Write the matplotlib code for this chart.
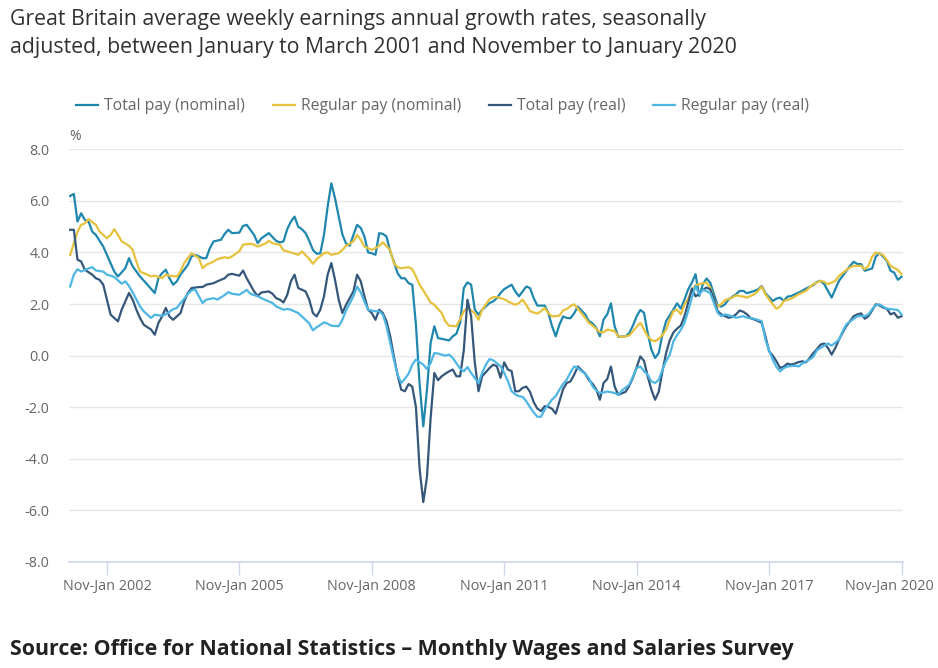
import matplotlib
matplotlib.use('Agg')
import matplotlib.pyplot as plt
from matplotlib import transforms

# month index: 0 = Jan-Mar 2001, 226 = Nov-Jan 2020 (rolling 3-month periods)
total_nom_m = [0, 1, 2, 3, 4, 5, 6, 7, 9, 11, 12, 13, 15, 16, 17, 19, 21, 22, 23, 24, 25, 26, 27, 28, 29, 30,
               32, 33, 34, 36, 37, 38, 39, 41, 42, 43, 44, 46, 47, 48, 50, 51, 52, 54, 55, 56, 57, 58, 59, 60,
               61, 62, 63, 64, 65, 66, 67, 68, 69, 70, 71, 72, 73, 74, 75, 76, 77, 78, 79, 80, 81, 82, 83, 84,
               85, 86, 87, 88, 89, 90, 91, 92, 93, 94, 95, 96, 97, 98, 99, 100, 101, 103, 104, 105, 106, 107,
               108, 109, 110, 111, 112, 114, 115, 116, 117, 118, 120, 121, 122, 123, 124, 125, 126, 127, 129,
               130, 131, 132, 133, 134, 135, 136, 137, 138, 140, 141, 142, 143, 144, 145, 146, 147, 148, 149,
               151, 152, 153, 154, 155, 156, 157, 158, 159, 160, 161, 162, 164, 165, 166, 167, 168, 169, 170,
               171, 172, 173, 174, 175, 176, 177, 178, 179, 181, 182, 183, 184, 186, 187, 188, 189, 191, 192,
               193, 194, 195, 196, 197, 199, 200, 202, 203, 204, 205, 206, 207, 208, 209, 211, 212, 213, 214,
               215, 216, 218, 219, 220, 221, 222, 223, 224, 225, 226]
total_nom = [6.19, 6.27, 5.2, 5.52, 5.26, 5.2, 4.81, 4.68, 4.23, 3.59, 3.26, 3.07, 3.39, 3.78, 3.46, 3.07, 2.75,
             2.59, 2.43, 3.0, 3.2, 3.33, 3.0, 2.75, 2.88, 3.14, 3.52, 3.85, 3.91, 3.78, 3.78, 4.17, 4.43, 4.49,
             4.72, 4.88, 4.75, 4.77, 5.03, 5.07, 4.68, 4.36, 4.55, 4.75, 4.6, 4.45, 4.39, 4.43, 4.9, 5.2, 5.39,
             5.0, 4.9, 4.75, 4.45, 4.1, 3.95, 3.97, 4.68, 5.78, 6.68, 6.1, 5.4, 4.7, 4.35, 4.26, 4.68, 5.07,
             4.95, 4.62, 4.0, 3.97, 3.91, 4.75, 4.72, 4.62, 4.04, 3.65, 3.2, 3.0, 3.0, 2.81, 2.75, 1.2, -1.1,
             -2.74, -1.32, 0.5, 1.14, 0.68, 0.65, 0.59, 0.75, 0.85, 1.26, 2.62, 2.84, 2.75, 1.78, 1.59, 1.78,
             2.04, 2.1, 2.23, 2.43, 2.58, 2.75, 2.49, 2.3, 2.49, 2.68, 2.62, 2.23, 1.94, 1.94, 1.65, 1.14, 0.75,
             1.2, 1.52, 1.46, 1.45, 1.64, 1.9, 1.6, 1.34, 1.25, 1.08, 0.75, 1.4, 1.6, 2.03, 1.14, 0.73, 0.75,
             0.88, 1.17, 1.53, 1.77, 1.66, 0.88, 0.23, -0.09, 0.1, 0.82, 1.34, 1.79, 2.03, 1.82, 2.18, 2.57,
             2.83, 3.16, 2.31, 2.77, 2.99, 2.83, 2.38, 1.95, 1.9, 1.99, 2.18, 2.38, 2.51, 2.51, 2.42, 2.51, 2.57,
             2.7, 2.42, 2.12, 2.21, 2.25, 2.12, 2.29, 2.31, 2.38, 2.51, 2.6, 2.73, 2.86, 2.9, 2.77, 2.51, 2.25,
             2.57, 2.9, 3.29, 3.48, 3.64, 3.55, 3.55, 3.29, 3.38, 3.84, 3.97, 3.84, 3.68, 3.29, 3.22, 2.94, 3.06]

reg_nom_m = [0, 2, 3, 4, 5, 7, 8, 9, 10, 11, 12, 13, 14, 16, 17, 18, 19, 21, 22, 23, 25, 26, 27, 29, 30, 31, 32,
             33, 35, 36, 37, 39, 40, 42, 43, 44, 46, 47, 49, 50, 51, 53, 54, 55, 57, 58, 59, 60, 62, 63, 64, 65,
             66, 67, 69, 70, 71, 73, 74, 75, 77, 78, 79, 80, 82, 83, 84, 85, 87, 88, 89, 90, 92, 93, 94, 95, 97,
             98, 99, 101, 102, 103, 105, 106, 107, 108, 110, 111, 112, 114, 115, 116, 118, 119, 121, 122, 123,
             124, 125, 127, 128, 129, 130, 131, 133, 134, 135, 136, 137, 138, 140, 141, 142, 144, 145, 146, 148,
             149, 150, 152, 153, 154, 155, 156, 157, 158, 159, 160, 161, 162, 163, 164, 165, 166, 167, 168, 169,
             170, 171, 172, 173, 174, 175, 176, 177, 178, 180, 181, 182, 183, 184, 186, 187, 188, 189, 191, 192,
             193, 194, 196, 197, 198, 200, 201, 202, 204, 205, 206, 208, 209, 211, 212, 213, 215, 216, 217, 218,
             219, 220, 221, 222, 223, 224, 225, 226]
reg_nom = [3.9, 4.81, 5.07, 5.13, 5.29, 5.07, 4.81, 4.68, 4.55, 4.68, 4.9, 4.68, 4.43, 4.26, 4.1, 3.65, 3.26,
           3.14, 3.07, 3.1, 3.0, 3.14, 3.1, 3.07, 3.26, 3.59, 3.78, 3.97, 3.78, 3.39, 3.52, 3.65, 3.74, 3.82,
           3.78, 3.85, 4.05, 4.3, 4.34, 4.3, 4.23, 4.34, 4.45, 4.36, 4.3, 4.08, 4.04, 4.0, 3.91, 4.04, 3.9, 3.75,
           3.56, 3.74, 3.97, 4.0, 3.91, 3.97, 4.1, 4.26, 4.43, 4.68, 4.49, 4.23, 4.1, 4.17, 4.26, 4.39, 4.1,
           3.59, 3.43, 3.39, 3.43, 3.35, 3.07, 2.75, 2.3, 2.06, 1.97, 1.65, 1.33, 1.16, 1.14, 1.42, 1.72, 1.85,
           1.65, 1.39, 1.78, 2.19, 2.27, 2.27, 2.19, 2.1, 1.97, 2.04, 2.17, 1.97, 1.72, 1.63, 1.72, 1.85, 1.65,
           1.52, 1.55, 1.75, 1.81, 1.92, 1.99, 1.82, 1.47, 1.27, 1.17, 0.91, 0.91, 1.01, 0.95, 0.75, 0.73, 0.78,
           0.95, 1.12, 1.27, 1.01, 0.75, 0.6, 0.56, 0.65, 0.8, 1.01, 1.4, 1.73, 1.79, 1.6, 1.99, 2.2, 2.55, 2.73,
           2.77, 2.81, 2.83, 2.64, 2.18, 1.9, 2.0, 2.15, 2.25, 2.34, 2.31, 2.29, 2.25, 2.38, 2.51, 2.68, 2.38,
           1.99, 1.82, 1.9, 2.12, 2.21, 2.29, 2.38, 2.51, 2.64, 2.77, 2.9, 2.86, 2.77, 2.9, 3.09, 3.32, 3.42,
           3.48, 3.48, 3.35, 3.48, 3.84, 4.0, 3.95, 3.9, 3.71, 3.48, 3.4, 3.32, 3.16]

total_real_m = [0, 1, 2, 3, 4, 6, 7, 8, 9, 10, 11, 12, 13, 14, 15, 16, 17, 18, 19, 20, 22, 23, 24, 25, 26, 27, 28,
                30, 31, 32, 33, 35, 36, 37, 39, 40, 42, 43, 44, 46, 47, 48, 50, 51, 52, 54, 55, 56, 57, 58, 59,
                60, 61, 62, 64, 65, 66, 67, 68, 69, 70, 71, 72, 73, 74, 75, 77, 78, 79, 80, 81, 82, 83, 84, 85,
                86, 87, 88, 89, 90, 91, 92, 93, 94, 95, 96, 97, 98, 99, 100, 101, 102, 103, 104, 105, 106, 107,
                108, 109, 110, 111, 112, 114, 115, 116, 117, 118, 119, 120, 121, 122, 123, 124, 125, 126, 127,
                128, 129, 130, 131, 132, 133, 134, 135, 136, 137, 138, 140, 141, 142, 143, 144, 145, 146, 147,
                148, 149, 151, 152, 153, 154, 155, 156, 157, 158, 159, 160, 161, 162, 163, 164, 165, 166, 167,
                168, 169, 170, 171, 172, 173, 174, 175, 176, 177, 178, 179, 180, 181, 182, 183, 184, 185, 186,
                187, 188, 189, 190, 191, 192, 193, 194, 195, 196, 197, 198, 199, 200, 201, 202, 203, 204, 205,
                206, 207, 208, 209, 210, 211, 212, 213, 214, 215, 216, 217, 218, 219, 220, 221, 222, 223, 224,
                225, 226]
total_real = [4.88, 4.88, 3.72, 3.65, 3.33, 3.14, 3.0, 2.94, 2.75, 2.17, 1.59, 1.46, 1.33, 1.78, 2.1, 2.43, 2.17,
              1.78, 1.46, 1.2, 1.01, 0.81, 1.27, 1.52, 1.85, 1.52, 1.39, 1.65, 2.1, 2.43, 2.62, 2.66, 2.66, 2.75,
              2.81, 2.88, 3.0, 3.14, 3.17, 3.1, 3.3, 3.0, 2.49, 2.32, 2.45, 2.49, 2.4, 2.23, 2.17, 2.06, 2.35,
              2.88, 3.14, 2.62, 2.49, 2.17, 1.65, 1.52, 1.78, 2.3, 3.14, 3.59, 2.94, 2.17, 1.65, 1.97, 2.49, 3.14,
              2.88, 2.3, 1.78, 1.65, 1.39, 1.78, 1.65, 1.33, 0.75, -0.03, -0.74, -1.32, -1.38, -1.1, -1.2, -2.0,
              -4.4, -5.68, -4.7, -2.4, -0.67, -0.95, -0.8, -0.7, -0.61, -0.54, -0.8, -0.8, 0.2, 2.17, 1.52, -0.28,
              -1.38, -0.8, -0.48, -0.35, -0.41, -0.86, -0.26, -0.54, -0.6, -1.38, -1.38, -1.25, -1.2, -1.4, -1.8,
              -2.05, -2.15, -1.96, -1.99, -2.06, -2.25, -1.77, -1.3, -1.06, -1.0, -0.74, -0.42, -0.7, -0.94,
              -1.09, -1.3, -1.71, -1.06, -0.91, -0.42, -1.19, -1.52, -1.4, -1.17, -0.85, -0.45, -0.03, -0.2,
              -0.81, -1.32, -1.71, -1.4, -0.6, 0.1, 0.6, 0.9, 1.05, 1.17, 1.53, 2.05, 2.6, 2.3, 2.4, 2.55, 2.64,
              2.57, 2.18, 1.73, 1.6, 1.53, 1.47, 1.5, 1.6, 1.75, 1.7, 1.6, 1.45, 1.4, 1.34, 1.27, 0.75, 0.17, 0.0,
              -0.22, -0.48, -0.42, -0.31, -0.35, -0.31, -0.25, -0.22, -0.26, -0.1, 0.1, 0.25, 0.43, 0.47, 0.3,
              0.04, 0.3, 0.62, 0.9, 1.15, 1.34, 1.53, 1.6, 1.64, 1.43, 1.53, 1.75, 1.99, 1.95, 1.86, 1.82, 1.6,
              1.66, 1.47, 1.53]

reg_real_m = [0, 1, 2, 3, 5, 6, 7, 9, 10, 11, 12, 14, 15, 16, 17, 19, 20, 22, 23, 24, 25, 26, 28, 29, 30, 31, 32,
              33, 34, 35, 36, 37, 39, 40, 42, 43, 44, 46, 48, 49, 51, 52, 54, 55, 56, 58, 59, 60, 62, 63, 65, 66,
              67, 69, 70, 71, 73, 74, 75, 77, 78, 79, 80, 81, 83, 84, 85, 86, 87, 88, 89, 90, 91, 92, 93, 94, 96,
              97, 98, 99, 100, 102, 103, 104, 106, 107, 108, 109, 111, 112, 113, 114, 115, 117, 118, 119, 120,
              121, 122, 123, 124, 125, 126, 127, 128, 129, 130, 131, 132, 133, 134, 135, 136, 137, 138, 139, 140,
              141, 142, 143, 144, 145, 146, 148, 149, 150, 152, 153, 154, 155, 156, 157, 158, 159, 160, 161, 162,
              163, 164, 165, 166, 167, 168, 169, 170, 171, 172, 173, 174, 175, 176, 177, 178, 180, 181, 182, 183,
              184, 186, 187, 188, 189, 190, 191, 192, 193, 194, 195, 197, 198, 199, 201, 202, 203, 205, 206, 207,
              209, 210, 211, 213, 214, 216, 217, 218, 219, 220, 221, 222, 224, 225, 226]
reg_real = [2.68, 3.14, 3.35, 3.26, 3.38, 3.43, 3.3, 3.26, 3.14, 3.1, 3.05, 2.79, 2.88, 2.7, 2.45, 1.91, 1.72,
            1.46, 1.59, 1.56, 1.55, 1.6, 1.8, 1.85, 2.04, 2.2, 2.4, 2.53, 2.56, 2.3, 2.04, 2.17, 2.23, 2.17, 2.35,
            2.46, 2.4, 2.36, 2.55, 2.4, 2.3, 2.23, 2.1, 2.04, 1.91, 1.78, 1.81, 1.78, 1.65, 1.52, 1.25, 0.98, 1.1,
            1.29, 1.24, 1.16, 1.14, 1.39, 1.75, 2.3, 2.68, 2.45, 2.1, 1.78, 1.72, 1.72, 1.59, 1.14, 0.49, -0.15,
            -0.74, -1.06, -0.9, -0.7, -0.35, -0.15, -0.35, -0.52, -0.28, 0.1, 0.08, 0.0, 0.04, -0.09, -0.5, -0.61,
            -0.44, -0.67, -1.06, -0.67, -0.35, -0.13, -0.18, -0.41, -0.67, -0.99, -1.38, -1.5, -1.57, -1.6, -1.77,
            -2.0, -2.2, -2.37, -2.37, -2.09, -1.9, -1.7, -1.57, -1.32, -1.1, -0.93, -0.65, -0.42, -0.48, -0.6,
            -0.7, -0.87, -1.19, -1.35, -1.45, -1.43, -1.39, -1.45, -1.52, -1.35, -1.13, -0.81, -0.48, -0.42, -0.6,
            -0.74, -1.0, -1.06, -0.94, -0.55, -0.2, 0.04, 0.56, 0.8, 1.0, 1.27, 1.73, 2.25, 2.7, 2.38, 2.55, 2.5,
            2.42, 2.05, 1.66, 1.53, 1.6, 1.53, 1.47, 1.5, 1.53, 1.47, 1.43, 1.38, 1.34, 0.62, 0.2, -0.16, -0.44,
            -0.61, -0.48, -0.42, -0.39, -0.42, -0.31, -0.15, -0.05, 0.21, 0.39, 0.47, 0.39, 0.62, 0.95, 1.21,
            1.43, 1.53, 1.53, 1.6, 1.8, 1.95, 1.99, 1.9, 1.82, 1.79, 1.77, 1.6]

series_names = ['Total pay (nominal)', 'Regular pay (nominal)', 'Total pay (real)', 'Regular pay (real)']
series_colors = ['#1f87ad', '#e5c13d', '#34577a', '#4db6e2']

tick_months = [10, 46, 82, 118, 154, 190, 226]
tick_labels = ['Nov-Jan 2002', 'Nov-Jan 2005', 'Nov-Jan 2008', 'Nov-Jan 2011',
               'Nov-Jan 2014', 'Nov-Jan 2017', 'Nov-Jan 2020']
y_ticks = [-8, -6, -4, -2, 0, 2, 4, 6, 8]

plt.rcParams['font.family'] = ['Open Sans', 'DejaVu Sans']

fig = plt.figure(figsize=(9.38, 6.68), dpi=100)
ax = fig.add_axes([0.0736, 0.1587, 0.8891, 0.6178])

all_m = [total_nom_m, reg_nom_m, total_real_m, reg_real_m]
all_v = [total_nom, reg_nom, total_real, reg_real]
for m, v, name, c in zip(all_m, all_v, series_names, series_colors):
    ax.plot(m, v, color=c, lw=1.6, label=name, solid_joinstyle='round')

ax.set_xlim(-0.3, 226.4)
ax.set_ylim(-8, 8)
ax.set_yticks(y_ticks)
ax.set_yticklabels([f'{t:.1f}' for t in y_ticks])
ax.set_xticks(tick_months)
ax.set_xticklabels(tick_labels)
ax.grid(axis='y', color='#e6e6e6', lw=1)
ax.set_axisbelow(True)
for s in ['top', 'right', 'left']:
    ax.spines[s].set_visible(False)
ax.spines['bottom'].set_color('#ccd6eb')
ax.spines['bottom'].set_linewidth(1.2)
ax.tick_params(axis='x', length=9, width=1, color='#ccd6eb', labelcolor='#666666', labelsize=10.4, pad=3)
ax.tick_params(axis='y', length=0, labelcolor='#666666', labelsize=10.4, pad=14)

# last label is pulled inside the chart, like the original
last = ax.get_xticklabels()[-1]
last.set_transform(last.get_transform() + transforms.ScaledTranslation(-0.12, 0, fig.dpi_scale_trans))

ax.text(0, 1.012, '%', transform=ax.transAxes, ha='left', va='bottom', fontsize=10, color='#666666')

fig.legend(loc='center', bbox_to_anchor=(0.472, 0.841), ncol=4, frameon=False, fontsize=11.3,
           handlelength=1.4, handletextpad=0.4, columnspacing=1.75, labelcolor='#666666')

fig.text(0.011, 0.987, 'Great Britain average weekly earnings annual growth rates, seasonally\n'
         'adjusted, between January to March 2001 and November to January 2020',
         ha='left', va='top', fontsize=15.3, color='#323132', linespacing=1.45)
fig.text(0.011, 0.027, 'Source: Office for National Statistics \u2013 Monthly Wages and Salaries Survey',
         ha='left', va='center', fontsize=15.4, fontweight='bold', color='#222222')

fig.savefig('out.png', dpi=100)
